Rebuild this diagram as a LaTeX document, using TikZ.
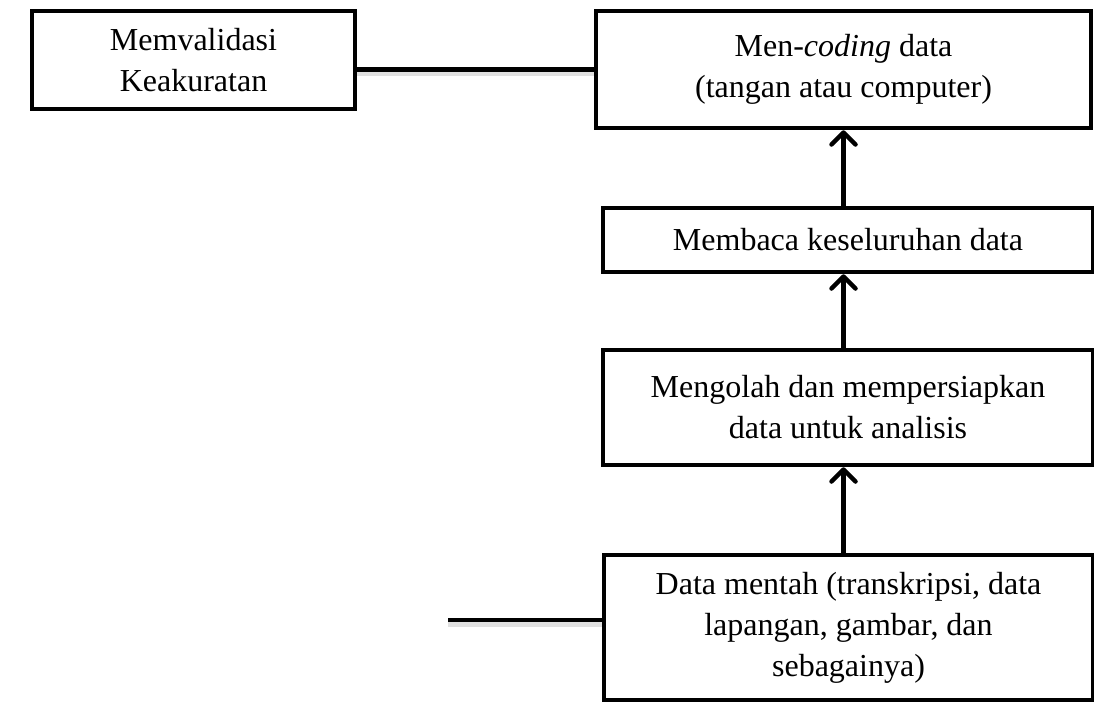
\documentclass[tikz,border=0pt]{standalone}
\usepackage{fontspec}
\setmainfont{Liberation Serif}
\usetikzlibrary{arrows.meta}
\begin{document}
\begin{tikzpicture}[x=1pt,y=-1pt,
  box/.style={draw, line width=4.5pt, align=center, inner sep=0pt, font=\fontsize{32}{41}\selectfont},
  conn/.style={line width=4.5pt,
    preaction={draw, black, opacity=0.12, line width=6pt, transform canvas={yshift=-3.5pt}}},
  arr/.style={line width=4.5pt, -{Straight Barb[length=12pt,width=24pt,round]}}]
\fill[white] (0,0) rectangle (1094,702);
\useasboundingbox (0,0) rectangle (1094,702);
\node[box, minimum width=323pt, minimum height=98pt] (valid) at (193.5,60) {Memvalidasi\\Keakuratan};
\node[box, minimum width=495pt, minimum height=117pt] (coding) at (843.5,69.5) {Men-\textit{coding} data\\(tangan atau computer)};
\node[box, minimum width=490pt, minimum height=64pt] (baca) at (848,240) {Membaca keseluruhan data};
\node[box, minimum width=490pt, minimum height=115pt] (olah) at (848,407.5) {Mengolah dan mempersiapkan\\data untuk analisis};
\node[box, minimum width=489pt, minimum height=145pt] (mentah) at (848.5,627.5) {Data mentah (transkripsi, data\\lapangan, gambar, dan\\sebagainya)};
\draw[arr] (baca.north -| coding.south) -- (coding.south);
\draw[arr] (olah.north -| coding.south) -- (baca.south -| coding.south);
\draw[arr] (mentah.north -| coding.south) -- (olah.south -| coding.south);
\draw[conn] (valid.east |- coding.west) -- (coding.west);
\coordinate (free) at (448,620);
\draw[conn] (free) -- (free -| mentah.west);
\end{tikzpicture}
\end{document}
